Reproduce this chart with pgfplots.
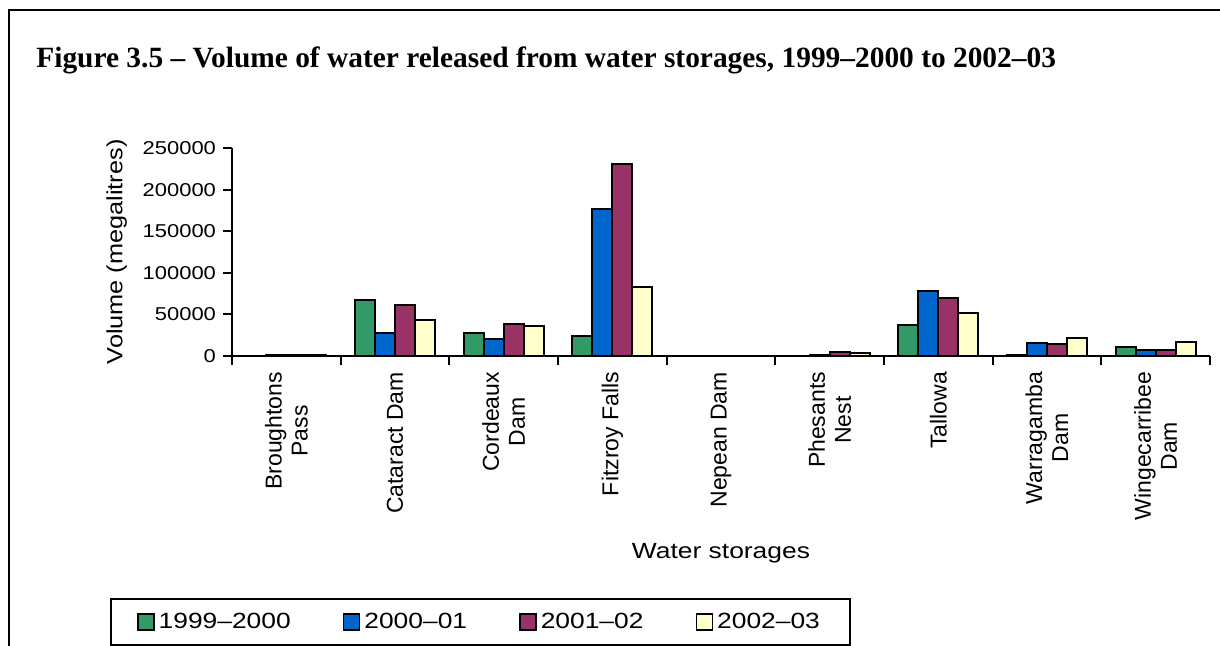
\documentclass[border=0pt]{standalone}
\usepackage{fontspec}
\setmainfont{Liberation Sans}
\newfontfamily\titlefont{Liberation Serif}
\usepackage{graphicx}
\usepackage{pgfplots}
\usepackage{pgfplotstable}
\pgfplotsset{compat=1.18}

\definecolor{sgreen}{RGB}{51,153,102}
\definecolor{sblue}{RGB}{0,102,204}
\definecolor{splum}{RGB}{153,51,102}
\definecolor{scream}{RGB}{255,255,204}

% text in the chart is set a little wide
\newcommand{\wx}[1]{\scalebox{1.2}[1]{#1}}
\newcommand{\wy}[1]{\scalebox{1.18}[1]{#1}}

% megalitres released, by storage (0 = Broughtons Pass ... 8 = Wingecarribee Dam)
\pgfplotstableread{
x  y9900  y0001  y0102  y0203
0  0      600    900    800
1  67000  28000  61000  43000
2  28000  20000  38500  36000
3  24000  176300 231000 83300
4  0      0      0      0
5  0      1500   4500   4000
6  36900  78500  69700  51700
7  800    15200  14400  21600
8  10800  6800   7000   17200
}\released

\begin{document}
\begin{tikzpicture}
\useasboundingbox (0,0) rectangle (610pt,323pt);
\draw[line width=1pt] (4.5pt,0) -- (4.5pt,318pt) -- (610pt,318pt);
\node[anchor=base west, inner sep=0pt, font=\titlefont\bfseries\fontsize{14.7}{17}\selectfont]
  at (18pt,289pt) {Figure 3.5 – Volume of water released from water storages, 1999–2000 to 2002–03};
\begin{axis}[
    at={(116pt,145pt)}, anchor=south west,
    scale only axis, width=489pt, height=104pt,
    ybar=0pt, bar width=10pt,
    xmin=-0.5, xmax=8.5, ymin=0, ymax=250000,
    axis x line*=bottom, axis y line*=left,
    axis line style={line width=1pt, -},
    tick align=outside, major tick length=4.5pt, minor tick length=4.5pt,
    tick style={line width=1pt, black},
    scaled y ticks=false,
    ytick={0,50000,100000,150000,200000,250000},
    yticklabels={\wy{0},\wy{50000},\wy{100000},\wy{150000},\wy{200000},\wy{250000}},
    yticklabel style={font=\fontsize{9.3}{11}\selectfont},
    xtick={0,...,8},
    major x tick style={draw=none},
    minor xtick={-0.5,0.5,...,8.5},
    xticklabels={{Broughtons\\Pass},{Cataract Dam},{Cordeaux\\Dam},{Fitzroy Falls},{Nepean Dam},{Phesants\\Nest},{Tallowa},{Warragamba\\Dam},{Wingecarribee\\Dam}},
    xticklabel style={rotate=90, anchor=east, align=center, font=\fontsize{11.5}{13}\selectfont},
    xlabel={\wx{Water storages}},
    xlabel style={at={(axis description cs:0.5,-0.9475)}, anchor=center, font=\fontsize{11}{13}\selectfont},
    ylabel={\scalebox{1.15}[1]{Volume (megalitres)}},
    ylabel style={at={(axis description cs:-0.107,0.5)}, anchor=south, inner sep=0pt, font=\fontsize{11}{13}\selectfont},
    every axis plot/.append style={draw=black, line width=1pt},
    legend columns=4,
    legend image code/.code={\draw[#1, line width=0.8pt] (0pt,-3.8pt) rectangle (8pt,4.2pt);},
    legend style={at={(axis description cs:-0.1247,-1.1635)}, anchor=north west,
        draw=black, line width=1pt, font=\fontsize{11}{13}\selectfont,
        inner xsep=13pt, inner ysep=5pt,
        /tikz/every even column/.append style={column sep=24pt}},
    clip=false,
]
\addplot[fill=sgreen] table[x=x, y=y9900] {\released};
\addplot[fill=sblue] table[x=x, y=y0001] {\released};
\addplot[fill=splum] table[x=x, y=y0102] {\released};
\addplot[fill=scream] table[x=x, y=y0203] {\released};
\legend{\wx{1999–2000},\wx{2000–01},\wx{2001–02},\wx{2002–03}}
\end{axis}
\end{tikzpicture}
\end{document}
